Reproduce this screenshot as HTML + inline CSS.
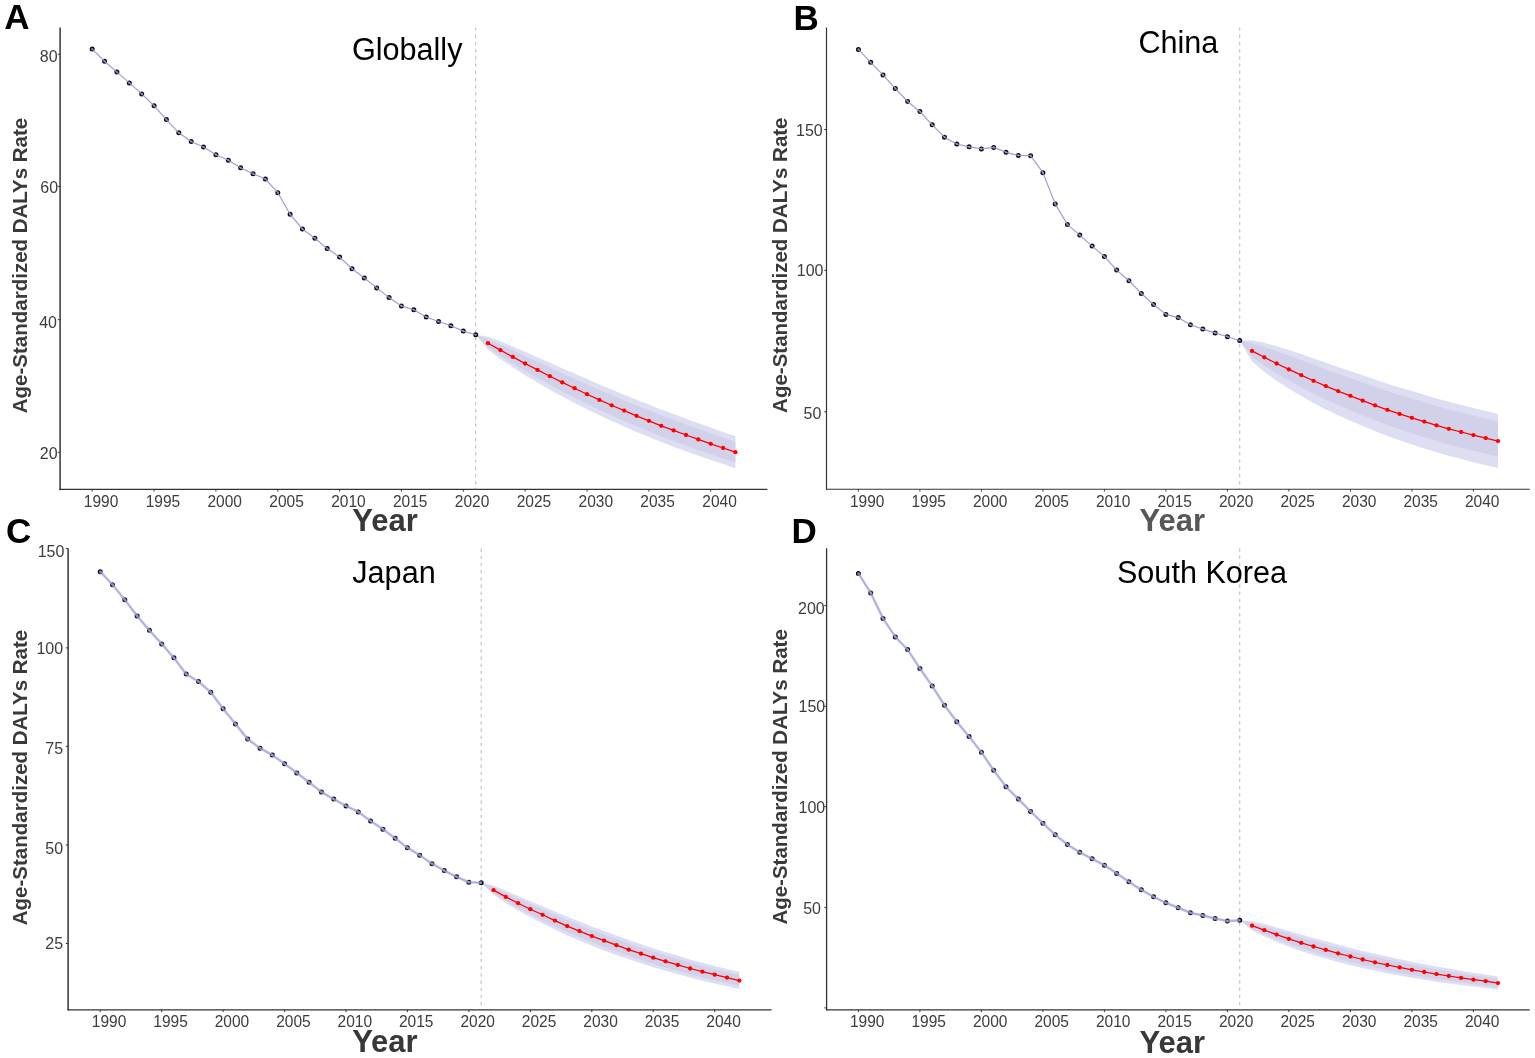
<!DOCTYPE html><html><head><meta charset="utf-8"><title>Age-Standardized DALYs Rate projections</title><style>html,body{margin:0;padding:0;background:#fff;overflow:hidden}svg{display:block}text{font-family:"Liberation Sans", Arial, Helvetica, sans-serif}</style></head><body>
<svg width="1535" height="1058" viewBox="0 0 1535 1058">
<rect width="1535" height="1058" fill="#fff"/>
<g id="panelA"><path d="M475.7,334.8 L488.0,336.8 L500.4,341.3 L512.8,346.5 L525.1,351.8 L537.5,357.2 L549.9,362.7 L562.3,368.3 L574.6,373.5 L587.0,379.1 L599.4,384.5 L611.7,389.6 L624.1,394.7 L636.5,399.7 L648.9,404.6 L661.2,409.6 L673.6,414.1 L686.0,418.7 L698.3,423.1 L710.7,427.6 L723.1,431.9 L735.4,436.2 L735.4,468.2 L723.1,464.1 L710.7,460.0 L698.3,455.7 L686.0,451.3 L673.6,446.7 L661.2,442.0 L648.9,437.0 L636.5,431.9 L624.1,426.5 L611.7,421.0 L599.4,415.3 L587.0,409.3 L574.6,402.9 L562.3,396.5 L549.9,389.7 L537.5,382.6 L525.1,375.2 L512.8,367.3 L500.4,358.9 L488.0,349.6 L475.7,334.8 Z" fill="#dedef3"/><path d="M475.7,334.8 L488.0,339.1 L500.4,344.4 L512.8,350.1 L525.1,355.9 L537.5,361.7 L549.9,367.4 L562.3,373.2 L574.6,378.7 L587.0,384.4 L599.4,389.9 L611.7,395.1 L624.1,400.3 L636.5,405.4 L648.9,410.3 L661.2,415.2 L673.6,419.8 L686.0,424.4 L698.3,428.8 L710.7,433.3 L723.1,437.5 L735.4,441.8 L735.4,462.6 L723.1,458.5 L710.7,454.3 L698.3,450.0 L686.0,445.6 L673.6,441.0 L661.2,436.4 L648.9,431.3 L636.5,426.2 L624.1,420.9 L611.7,415.5 L599.4,409.9 L587.0,404.0 L574.6,397.7 L562.3,391.6 L549.9,385.0 L537.5,378.1 L525.1,371.1 L512.8,363.7 L500.4,355.8 L488.0,347.3 L475.7,334.8 Z" fill="#d1d1ea"/><line x1="475.7" y1="27.4" x2="475.7" y2="489.4" stroke="#c2c2c2" stroke-width="1.15" stroke-dasharray="3.4 3.8"/><circle cx="92.2" cy="49.1" r="1.8" fill="#8a8ab4" stroke="#0c0c20" stroke-width="1.4"/><circle cx="104.6" cy="61.3" r="1.8" fill="#8a8ab4" stroke="#0c0c20" stroke-width="1.4"/><circle cx="116.9" cy="72.1" r="1.8" fill="#8a8ab4" stroke="#0c0c20" stroke-width="1.4"/><circle cx="129.3" cy="82.9" r="1.8" fill="#8a8ab4" stroke="#0c0c20" stroke-width="1.4"/><circle cx="141.7" cy="93.9" r="1.8" fill="#8a8ab4" stroke="#0c0c20" stroke-width="1.4"/><circle cx="154.1" cy="105.8" r="1.8" fill="#8a8ab4" stroke="#0c0c20" stroke-width="1.4"/><circle cx="166.4" cy="119.6" r="1.8" fill="#8a8ab4" stroke="#0c0c20" stroke-width="1.4"/><circle cx="178.8" cy="132.8" r="1.8" fill="#8a8ab4" stroke="#0c0c20" stroke-width="1.4"/><circle cx="191.2" cy="141.5" r="1.8" fill="#8a8ab4" stroke="#0c0c20" stroke-width="1.4"/><circle cx="203.5" cy="147.0" r="1.8" fill="#8a8ab4" stroke="#0c0c20" stroke-width="1.4"/><circle cx="215.9" cy="154.7" r="1.8" fill="#8a8ab4" stroke="#0c0c20" stroke-width="1.4"/><circle cx="228.3" cy="160.2" r="1.8" fill="#8a8ab4" stroke="#0c0c20" stroke-width="1.4"/><circle cx="240.6" cy="167.8" r="1.8" fill="#8a8ab4" stroke="#0c0c20" stroke-width="1.4"/><circle cx="253.0" cy="173.7" r="1.8" fill="#8a8ab4" stroke="#0c0c20" stroke-width="1.4"/><circle cx="265.4" cy="179.0" r="1.8" fill="#8a8ab4" stroke="#0c0c20" stroke-width="1.4"/><circle cx="277.8" cy="192.7" r="1.8" fill="#8a8ab4" stroke="#0c0c20" stroke-width="1.4"/><circle cx="290.1" cy="214.3" r="1.8" fill="#8a8ab4" stroke="#0c0c20" stroke-width="1.4"/><circle cx="302.5" cy="229.0" r="1.8" fill="#8a8ab4" stroke="#0c0c20" stroke-width="1.4"/><circle cx="314.9" cy="238.2" r="1.8" fill="#8a8ab4" stroke="#0c0c20" stroke-width="1.4"/><circle cx="327.2" cy="248.6" r="1.8" fill="#8a8ab4" stroke="#0c0c20" stroke-width="1.4"/><circle cx="339.6" cy="257.0" r="1.8" fill="#8a8ab4" stroke="#0c0c20" stroke-width="1.4"/><circle cx="352.0" cy="268.8" r="1.8" fill="#8a8ab4" stroke="#0c0c20" stroke-width="1.4"/><circle cx="364.3" cy="278.0" r="1.8" fill="#8a8ab4" stroke="#0c0c20" stroke-width="1.4"/><circle cx="376.7" cy="287.9" r="1.8" fill="#8a8ab4" stroke="#0c0c20" stroke-width="1.4"/><circle cx="389.1" cy="297.6" r="1.8" fill="#8a8ab4" stroke="#0c0c20" stroke-width="1.4"/><circle cx="401.4" cy="305.9" r="1.8" fill="#8a8ab4" stroke="#0c0c20" stroke-width="1.4"/><circle cx="413.8" cy="309.8" r="1.8" fill="#8a8ab4" stroke="#0c0c20" stroke-width="1.4"/><circle cx="426.2" cy="317.0" r="1.8" fill="#8a8ab4" stroke="#0c0c20" stroke-width="1.4"/><circle cx="438.6" cy="321.5" r="1.8" fill="#8a8ab4" stroke="#0c0c20" stroke-width="1.4"/><circle cx="450.9" cy="325.8" r="1.8" fill="#8a8ab4" stroke="#0c0c20" stroke-width="1.4"/><circle cx="463.3" cy="331.1" r="1.8" fill="#8a8ab4" stroke="#0c0c20" stroke-width="1.4"/><circle cx="475.7" cy="334.8" r="1.8" fill="#8a8ab4" stroke="#0c0c20" stroke-width="1.4"/><polyline points="92.2,49.1 104.6,61.3 116.9,72.1 129.3,82.9 141.7,93.9 154.1,105.8 166.4,119.6 178.8,132.8 191.2,141.5 203.5,147.0 215.9,154.7 228.3,160.2 240.6,167.8 253.0,173.7 265.4,179.0 277.8,192.7 290.1,214.3 302.5,229.0 314.9,238.2 327.2,248.6 339.6,257.0 352.0,268.8 364.3,278.0 376.7,287.9 389.1,297.6 401.4,305.9 413.8,309.8 426.2,317.0 438.6,321.5 450.9,325.8 463.3,331.1 475.7,334.8" fill="none" stroke="rgb(148,148,202)" stroke-opacity="0.9" stroke-width="1.2" stroke-linejoin="round"/><polyline points="488.0,343.2 500.4,350.1 512.8,356.9 525.1,363.5 537.5,369.9 549.9,376.2 562.3,382.4 574.6,388.2 587.0,394.2 599.4,399.9 611.7,405.3 624.1,410.6 636.5,415.8 648.9,420.8 661.2,425.8 673.6,430.4 686.0,435.0 698.3,439.4 710.7,443.8 723.1,448.0 735.4,452.2" fill="none" stroke="#ff0000" stroke-width="1.25" stroke-linejoin="round"/><circle cx="488.0" cy="343.2" r="2.15" fill="#ff0000"/><circle cx="500.4" cy="350.1" r="2.15" fill="#ff0000"/><circle cx="512.8" cy="356.9" r="2.15" fill="#ff0000"/><circle cx="525.1" cy="363.5" r="2.15" fill="#ff0000"/><circle cx="537.5" cy="369.9" r="2.15" fill="#ff0000"/><circle cx="549.9" cy="376.2" r="2.15" fill="#ff0000"/><circle cx="562.3" cy="382.4" r="2.15" fill="#ff0000"/><circle cx="574.6" cy="388.2" r="2.15" fill="#ff0000"/><circle cx="587.0" cy="394.2" r="2.15" fill="#ff0000"/><circle cx="599.4" cy="399.9" r="2.15" fill="#ff0000"/><circle cx="611.7" cy="405.3" r="2.15" fill="#ff0000"/><circle cx="624.1" cy="410.6" r="2.15" fill="#ff0000"/><circle cx="636.5" cy="415.8" r="2.15" fill="#ff0000"/><circle cx="648.9" cy="420.8" r="2.15" fill="#ff0000"/><circle cx="661.2" cy="425.8" r="2.15" fill="#ff0000"/><circle cx="673.6" cy="430.4" r="2.15" fill="#ff0000"/><circle cx="686.0" cy="435.0" r="2.15" fill="#ff0000"/><circle cx="698.3" cy="439.4" r="2.15" fill="#ff0000"/><circle cx="710.7" cy="443.8" r="2.15" fill="#ff0000"/><circle cx="723.1" cy="448.0" r="2.15" fill="#ff0000"/><circle cx="735.4" cy="452.2" r="2.15" fill="#ff0000"/><line x1="60.1" y1="27.4" x2="60.1" y2="489.4" stroke="#575757" stroke-width="1.8"/><line x1="60.1" y1="489.4" x2="767.4" y2="489.4" stroke="#333333" stroke-width="1.2"/><circle cx="60.1" cy="489.4" r="0.90" fill="#333333"/><line x1="57.9" y1="54.3" x2="60.1" y2="54.3" stroke="#333333" stroke-width="1"/><text x="57.6" y="62.0" font-size="16" fill="#3d3d3d" text-anchor="end">80</text><line x1="57.9" y1="186.4" x2="60.1" y2="186.4" stroke="#333333" stroke-width="1"/><text x="58.1" y="193.0" font-size="16" fill="#3d3d3d" text-anchor="end">60</text><line x1="57.9" y1="319.7" x2="60.1" y2="319.7" stroke="#333333" stroke-width="1"/><text x="57.0" y="327.8" font-size="16" fill="#3d3d3d" text-anchor="end">40</text><line x1="57.9" y1="452.3" x2="60.1" y2="452.3" stroke="#333333" stroke-width="1"/><text x="57.6" y="459.4" font-size="16" fill="#3d3d3d" text-anchor="end">20</text><line x1="92.2" y1="489.4" x2="92.2" y2="491.6" stroke="#333333" stroke-width="1"/><text transform="translate(101.0,506.8) scale(0.97,1)" font-size="16" fill="#3d3d3d" text-anchor="middle">1990</text><line x1="154.1" y1="489.4" x2="154.1" y2="491.6" stroke="#333333" stroke-width="1"/><text transform="translate(162.9,506.8) scale(0.97,1)" font-size="16" fill="#3d3d3d" text-anchor="middle">1995</text><line x1="215.9" y1="489.4" x2="215.9" y2="491.6" stroke="#333333" stroke-width="1"/><text transform="translate(224.7,506.8) scale(0.97,1)" font-size="16" fill="#3d3d3d" text-anchor="middle">2000</text><line x1="277.8" y1="489.4" x2="277.8" y2="491.6" stroke="#333333" stroke-width="1"/><text transform="translate(286.6,506.8) scale(0.97,1)" font-size="16" fill="#3d3d3d" text-anchor="middle">2005</text><line x1="339.6" y1="489.4" x2="339.6" y2="491.6" stroke="#333333" stroke-width="1"/><text transform="translate(348.4,506.8) scale(0.97,1)" font-size="16" fill="#3d3d3d" text-anchor="middle">2010</text><line x1="401.4" y1="489.4" x2="401.4" y2="491.6" stroke="#333333" stroke-width="1"/><text transform="translate(410.2,506.8) scale(0.97,1)" font-size="16" fill="#3d3d3d" text-anchor="middle">2015</text><line x1="463.3" y1="489.4" x2="463.3" y2="491.6" stroke="#333333" stroke-width="1"/><text transform="translate(472.1,506.8) scale(0.97,1)" font-size="16" fill="#3d3d3d" text-anchor="middle">2020</text><line x1="525.1" y1="489.4" x2="525.1" y2="491.6" stroke="#333333" stroke-width="1"/><text transform="translate(533.9,506.8) scale(0.97,1)" font-size="16" fill="#3d3d3d" text-anchor="middle">2025</text><line x1="587.0" y1="489.4" x2="587.0" y2="491.6" stroke="#333333" stroke-width="1"/><text transform="translate(595.8,506.8) scale(0.97,1)" font-size="16" fill="#3d3d3d" text-anchor="middle">2030</text><line x1="648.9" y1="489.4" x2="648.9" y2="491.6" stroke="#333333" stroke-width="1"/><text transform="translate(657.6,506.8) scale(0.97,1)" font-size="16" fill="#3d3d3d" text-anchor="middle">2035</text><line x1="710.7" y1="489.4" x2="710.7" y2="491.6" stroke="#333333" stroke-width="1"/><text transform="translate(719.5,506.8) scale(0.97,1)" font-size="16" fill="#3d3d3d" text-anchor="middle">2040</text><text x="407.2" y="59.6" font-size="30.6" fill="#000" text-anchor="middle">Globally</text><text x="4.2" y="29.3" font-size="35" font-weight="bold" fill="#000">A</text><text transform="translate(27.1,265.5) rotate(-90)" x="0" y="0" font-size="20.5" font-weight="bold" fill="#3a3a3a" text-anchor="middle">Age-Standardized DALYs Rate</text><text x="385.0" y="530.8" font-size="31" font-weight="bold" fill="#383838" text-anchor="middle">Year</text></g>
<g id="panelB"><path d="M1239.7,340.5 L1252.0,340.2 L1264.3,342.7 L1276.6,346.2 L1288.9,350.0 L1301.2,354.1 L1313.5,358.6 L1325.8,362.8 L1338.1,367.0 L1350.4,370.9 L1362.7,375.3 L1375.0,379.5 L1387.3,383.7 L1399.6,387.5 L1411.9,391.1 L1424.2,394.8 L1436.5,398.4 L1448.8,401.8 L1461.1,404.9 L1473.4,408.0 L1485.7,411.0 L1498.0,414.1 L1498.0,468.1 L1485.7,465.2 L1473.4,462.2 L1461.1,459.1 L1448.8,455.8 L1436.5,452.2 L1424.2,448.4 L1411.9,444.5 L1399.6,440.3 L1387.3,435.9 L1375.0,431.1 L1362.7,426.1 L1350.4,420.7 L1338.1,415.2 L1325.8,409.4 L1313.5,403.0 L1301.2,396.1 L1288.9,388.8 L1276.6,380.8 L1264.3,371.9 L1252.0,361.6 L1239.7,340.5 Z" fill="#dedef3"/><path d="M1239.7,340.5 L1252.0,343.2 L1264.3,346.8 L1276.6,351.0 L1288.9,355.5 L1301.2,360.0 L1313.5,364.8 L1325.8,369.3 L1338.1,373.7 L1350.4,377.9 L1362.7,382.4 L1375.0,386.7 L1387.3,391.0 L1399.6,394.9 L1411.9,398.6 L1424.2,402.3 L1436.5,405.9 L1448.8,409.4 L1461.1,412.5 L1473.4,415.6 L1485.7,418.6 L1498.0,421.6 L1498.0,456.8 L1485.7,453.8 L1473.4,450.8 L1461.1,447.7 L1448.8,444.5 L1436.5,440.9 L1424.2,437.2 L1411.9,433.3 L1399.6,429.2 L1387.3,425.0 L1375.0,420.3 L1362.7,415.4 L1350.4,410.2 L1338.1,405.1 L1325.8,399.6 L1313.5,393.7 L1301.2,387.3 L1288.9,380.6 L1276.6,373.5 L1264.3,365.8 L1252.0,357.1 L1239.7,340.5 Z" fill="#d1d1ea"/><line x1="1239.7" y1="27.4" x2="1239.7" y2="489.3" stroke="#c2c2c2" stroke-width="1.15" stroke-dasharray="3.4 3.8"/><circle cx="858.4" cy="49.4" r="1.8" fill="#8a8ab4" stroke="#0c0c20" stroke-width="1.4"/><circle cx="870.7" cy="62.3" r="1.8" fill="#8a8ab4" stroke="#0c0c20" stroke-width="1.4"/><circle cx="883.0" cy="74.9" r="1.8" fill="#8a8ab4" stroke="#0c0c20" stroke-width="1.4"/><circle cx="895.3" cy="88.4" r="1.8" fill="#8a8ab4" stroke="#0c0c20" stroke-width="1.4"/><circle cx="907.6" cy="101.5" r="1.8" fill="#8a8ab4" stroke="#0c0c20" stroke-width="1.4"/><circle cx="919.9" cy="111.5" r="1.8" fill="#8a8ab4" stroke="#0c0c20" stroke-width="1.4"/><circle cx="932.2" cy="124.8" r="1.8" fill="#8a8ab4" stroke="#0c0c20" stroke-width="1.4"/><circle cx="944.5" cy="137.2" r="1.8" fill="#8a8ab4" stroke="#0c0c20" stroke-width="1.4"/><circle cx="956.8" cy="144.0" r="1.8" fill="#8a8ab4" stroke="#0c0c20" stroke-width="1.4"/><circle cx="969.1" cy="146.8" r="1.8" fill="#8a8ab4" stroke="#0c0c20" stroke-width="1.4"/><circle cx="981.4" cy="148.9" r="1.8" fill="#8a8ab4" stroke="#0c0c20" stroke-width="1.4"/><circle cx="993.7" cy="147.4" r="1.8" fill="#8a8ab4" stroke="#0c0c20" stroke-width="1.4"/><circle cx="1006.0" cy="152.3" r="1.8" fill="#8a8ab4" stroke="#0c0c20" stroke-width="1.4"/><circle cx="1018.3" cy="155.4" r="1.8" fill="#8a8ab4" stroke="#0c0c20" stroke-width="1.4"/><circle cx="1030.6" cy="155.7" r="1.8" fill="#8a8ab4" stroke="#0c0c20" stroke-width="1.4"/><circle cx="1042.9" cy="172.7" r="1.8" fill="#8a8ab4" stroke="#0c0c20" stroke-width="1.4"/><circle cx="1055.2" cy="203.9" r="1.8" fill="#8a8ab4" stroke="#0c0c20" stroke-width="1.4"/><circle cx="1067.5" cy="224.6" r="1.8" fill="#8a8ab4" stroke="#0c0c20" stroke-width="1.4"/><circle cx="1079.8" cy="235.1" r="1.8" fill="#8a8ab4" stroke="#0c0c20" stroke-width="1.4"/><circle cx="1092.1" cy="246.1" r="1.8" fill="#8a8ab4" stroke="#0c0c20" stroke-width="1.4"/><circle cx="1104.4" cy="256.5" r="1.8" fill="#8a8ab4" stroke="#0c0c20" stroke-width="1.4"/><circle cx="1116.7" cy="270.1" r="1.8" fill="#8a8ab4" stroke="#0c0c20" stroke-width="1.4"/><circle cx="1129.0" cy="280.7" r="1.8" fill="#8a8ab4" stroke="#0c0c20" stroke-width="1.4"/><circle cx="1141.3" cy="293.5" r="1.8" fill="#8a8ab4" stroke="#0c0c20" stroke-width="1.4"/><circle cx="1153.6" cy="304.5" r="1.8" fill="#8a8ab4" stroke="#0c0c20" stroke-width="1.4"/><circle cx="1165.9" cy="314.4" r="1.8" fill="#8a8ab4" stroke="#0c0c20" stroke-width="1.4"/><circle cx="1178.2" cy="317.6" r="1.8" fill="#8a8ab4" stroke="#0c0c20" stroke-width="1.4"/><circle cx="1190.5" cy="324.8" r="1.8" fill="#8a8ab4" stroke="#0c0c20" stroke-width="1.4"/><circle cx="1202.8" cy="329.1" r="1.8" fill="#8a8ab4" stroke="#0c0c20" stroke-width="1.4"/><circle cx="1215.1" cy="332.9" r="1.8" fill="#8a8ab4" stroke="#0c0c20" stroke-width="1.4"/><circle cx="1227.4" cy="336.7" r="1.8" fill="#8a8ab4" stroke="#0c0c20" stroke-width="1.4"/><circle cx="1239.7" cy="340.5" r="1.8" fill="#8a8ab4" stroke="#0c0c20" stroke-width="1.4"/><polyline points="858.4,49.4 870.7,62.3 883.0,74.9 895.3,88.4 907.6,101.5 919.9,111.5 932.2,124.8 944.5,137.2 956.8,144.0 969.1,146.8 981.4,148.9 993.7,147.4 1006.0,152.3 1018.3,155.4 1030.6,155.7 1042.9,172.7 1055.2,203.9 1067.5,224.6 1079.8,235.1 1092.1,246.1 1104.4,256.5 1116.7,270.1 1129.0,280.7 1141.3,293.5 1153.6,304.5 1165.9,314.4 1178.2,317.6 1190.5,324.8 1202.8,329.1 1215.1,332.9 1227.4,336.7 1239.7,340.5" fill="none" stroke="rgb(148,148,202)" stroke-opacity="0.9" stroke-width="1.2" stroke-linejoin="round"/><polyline points="1252.0,350.9 1264.3,357.3 1276.6,363.5 1288.9,369.4 1301.2,375.1 1313.5,380.8 1325.8,386.1 1338.1,391.1 1350.4,395.8 1362.7,400.7 1375.0,405.3 1387.3,409.8 1399.6,413.9 1411.9,417.8 1424.2,421.6 1436.5,425.3 1448.8,428.8 1461.1,432.0 1473.4,435.1 1485.7,438.1 1498.0,441.1" fill="none" stroke="#ff0000" stroke-width="1.25" stroke-linejoin="round"/><circle cx="1252.0" cy="350.9" r="2.15" fill="#ff0000"/><circle cx="1264.3" cy="357.3" r="2.15" fill="#ff0000"/><circle cx="1276.6" cy="363.5" r="2.15" fill="#ff0000"/><circle cx="1288.9" cy="369.4" r="2.15" fill="#ff0000"/><circle cx="1301.2" cy="375.1" r="2.15" fill="#ff0000"/><circle cx="1313.5" cy="380.8" r="2.15" fill="#ff0000"/><circle cx="1325.8" cy="386.1" r="2.15" fill="#ff0000"/><circle cx="1338.1" cy="391.1" r="2.15" fill="#ff0000"/><circle cx="1350.4" cy="395.8" r="2.15" fill="#ff0000"/><circle cx="1362.7" cy="400.7" r="2.15" fill="#ff0000"/><circle cx="1375.0" cy="405.3" r="2.15" fill="#ff0000"/><circle cx="1387.3" cy="409.8" r="2.15" fill="#ff0000"/><circle cx="1399.6" cy="413.9" r="2.15" fill="#ff0000"/><circle cx="1411.9" cy="417.8" r="2.15" fill="#ff0000"/><circle cx="1424.2" cy="421.6" r="2.15" fill="#ff0000"/><circle cx="1436.5" cy="425.3" r="2.15" fill="#ff0000"/><circle cx="1448.8" cy="428.8" r="2.15" fill="#ff0000"/><circle cx="1461.1" cy="432.0" r="2.15" fill="#ff0000"/><circle cx="1473.4" cy="435.1" r="2.15" fill="#ff0000"/><circle cx="1485.7" cy="438.1" r="2.15" fill="#ff0000"/><circle cx="1498.0" cy="441.1" r="2.15" fill="#ff0000"/><line x1="826.5" y1="27.4" x2="826.5" y2="489.3" stroke="#333333" stroke-width="1.2"/><line x1="826.5" y1="489.3" x2="1529.8" y2="489.3" stroke="#333333" stroke-width="1.1"/><circle cx="826.5" cy="489.3" r="0.60" fill="#333333"/><line x1="824.3" y1="129.5" x2="826.5" y2="129.5" stroke="#333333" stroke-width="1"/><text x="822.7" y="136.0" font-size="16" fill="#3d3d3d" text-anchor="end">150</text><line x1="824.3" y1="270.3" x2="826.5" y2="270.3" stroke="#333333" stroke-width="1"/><text x="823.5" y="275.9" font-size="16" fill="#3d3d3d" text-anchor="end">100</text><line x1="824.3" y1="411.8" x2="826.5" y2="411.8" stroke="#333333" stroke-width="1"/><text x="821.4" y="418.8" font-size="16" fill="#3d3d3d" text-anchor="end">50</text><line x1="858.4" y1="489.3" x2="858.4" y2="491.5" stroke="#333333" stroke-width="1"/><text transform="translate(867.2,506.7) scale(0.97,1)" font-size="16" fill="#3d3d3d" text-anchor="middle">1990</text><line x1="919.9" y1="489.3" x2="919.9" y2="491.5" stroke="#333333" stroke-width="1"/><text transform="translate(928.7,506.7) scale(0.97,1)" font-size="16" fill="#3d3d3d" text-anchor="middle">1995</text><line x1="981.4" y1="489.3" x2="981.4" y2="491.5" stroke="#333333" stroke-width="1"/><text transform="translate(990.2,506.7) scale(0.97,1)" font-size="16" fill="#3d3d3d" text-anchor="middle">2000</text><line x1="1042.9" y1="489.3" x2="1042.9" y2="491.5" stroke="#333333" stroke-width="1"/><text transform="translate(1051.7,506.7) scale(0.97,1)" font-size="16" fill="#3d3d3d" text-anchor="middle">2005</text><line x1="1104.4" y1="489.3" x2="1104.4" y2="491.5" stroke="#333333" stroke-width="1"/><text transform="translate(1113.2,506.7) scale(0.97,1)" font-size="16" fill="#3d3d3d" text-anchor="middle">2010</text><line x1="1165.9" y1="489.3" x2="1165.9" y2="491.5" stroke="#333333" stroke-width="1"/><text transform="translate(1174.7,506.7) scale(0.97,1)" font-size="16" fill="#3d3d3d" text-anchor="middle">2015</text><line x1="1227.4" y1="489.3" x2="1227.4" y2="491.5" stroke="#333333" stroke-width="1"/><text transform="translate(1236.2,506.7) scale(0.97,1)" font-size="16" fill="#3d3d3d" text-anchor="middle">2020</text><line x1="1288.9" y1="489.3" x2="1288.9" y2="491.5" stroke="#333333" stroke-width="1"/><text transform="translate(1297.7,506.7) scale(0.97,1)" font-size="16" fill="#3d3d3d" text-anchor="middle">2025</text><line x1="1350.4" y1="489.3" x2="1350.4" y2="491.5" stroke="#333333" stroke-width="1"/><text transform="translate(1359.2,506.7) scale(0.97,1)" font-size="16" fill="#3d3d3d" text-anchor="middle">2030</text><line x1="1411.9" y1="489.3" x2="1411.9" y2="491.5" stroke="#333333" stroke-width="1"/><text transform="translate(1420.7,506.7) scale(0.97,1)" font-size="16" fill="#3d3d3d" text-anchor="middle">2035</text><line x1="1473.4" y1="489.3" x2="1473.4" y2="491.5" stroke="#333333" stroke-width="1"/><text transform="translate(1482.2,506.7) scale(0.97,1)" font-size="16" fill="#3d3d3d" text-anchor="middle">2040</text><text x="1178.4" y="53.3" font-size="30.6" fill="#000" text-anchor="middle">China</text><text x="793.5" y="29.8" font-size="35" font-weight="bold" fill="#000">B</text><text transform="translate(787.1,265.2) rotate(-90)" x="0" y="0" font-size="20.5" font-weight="bold" fill="#3a3a3a" text-anchor="middle">Age-Standardized DALYs Rate</text><text x="1172.3" y="530.8" font-size="31" font-weight="bold" fill="#575757" text-anchor="middle">Year</text></g>
<g id="panelC"><path d="M481.2,882.7 L493.5,885.5 L505.8,890.7 L518.1,895.9 L530.4,901.2 L542.6,906.2 L554.9,911.6 L567.2,916.8 L579.5,921.6 L591.8,926.5 L604.1,931.0 L616.4,935.5 L628.7,940.1 L641.0,944.1 L653.2,948.2 L665.5,951.9 L677.8,955.6 L690.1,959.4 L702.4,962.7 L714.7,965.9 L727.0,968.9 L739.3,972.1 L739.3,989.1 L727.0,986.3 L714.7,983.5 L702.4,980.7 L690.1,977.6 L677.8,974.2 L665.5,970.7 L653.2,967.2 L641.0,963.3 L628.7,959.3 L616.4,954.9 L604.1,950.4 L591.8,945.7 L579.5,940.6 L567.2,935.4 L554.9,929.6 L542.6,923.4 L530.4,917.2 L518.1,910.5 L505.8,903.1 L493.5,894.7 L481.2,882.7 Z" fill="#dedef3"/><path d="M481.2,882.7 L493.5,887.1 L505.8,892.9 L518.1,898.5 L530.4,904.0 L542.6,909.2 L554.9,914.8 L567.2,920.1 L579.5,924.9 L591.8,929.9 L604.1,934.4 L616.4,938.9 L628.7,943.4 L641.0,947.5 L653.2,951.5 L665.5,955.2 L677.8,958.9 L690.1,962.6 L702.4,965.9 L714.7,968.9 L727.0,972.0 L739.3,975.1 L739.3,986.1 L727.0,983.2 L714.7,980.5 L702.4,977.5 L690.1,974.4 L677.8,970.9 L665.5,967.4 L653.2,963.9 L641.0,959.9 L628.7,956.0 L616.4,951.5 L604.1,947.0 L591.8,942.3 L579.5,937.3 L567.2,932.1 L554.9,926.4 L542.6,920.4 L530.4,914.4 L518.1,907.9 L505.8,900.9 L493.5,893.1 L481.2,882.7 Z" fill="#d1d1ea"/><line x1="481.2" y1="548.5" x2="481.2" y2="1009.9" stroke="#c2c2c2" stroke-width="1.15" stroke-dasharray="3.4 3.8"/><circle cx="100.2" cy="571.7" r="1.8" fill="#8a8ab4" stroke="#0c0c20" stroke-width="1.4"/><circle cx="112.5" cy="584.7" r="1.8" fill="#8a8ab4" stroke="#0c0c20" stroke-width="1.4"/><circle cx="124.8" cy="599.7" r="1.8" fill="#8a8ab4" stroke="#0c0c20" stroke-width="1.4"/><circle cx="137.1" cy="615.9" r="1.8" fill="#8a8ab4" stroke="#0c0c20" stroke-width="1.4"/><circle cx="149.4" cy="630.3" r="1.8" fill="#8a8ab4" stroke="#0c0c20" stroke-width="1.4"/><circle cx="161.7" cy="643.9" r="1.8" fill="#8a8ab4" stroke="#0c0c20" stroke-width="1.4"/><circle cx="173.9" cy="657.8" r="1.8" fill="#8a8ab4" stroke="#0c0c20" stroke-width="1.4"/><circle cx="186.2" cy="674.1" r="1.8" fill="#8a8ab4" stroke="#0c0c20" stroke-width="1.4"/><circle cx="198.5" cy="681.5" r="1.8" fill="#8a8ab4" stroke="#0c0c20" stroke-width="1.4"/><circle cx="210.8" cy="692.3" r="1.8" fill="#8a8ab4" stroke="#0c0c20" stroke-width="1.4"/><circle cx="223.1" cy="708.8" r="1.8" fill="#8a8ab4" stroke="#0c0c20" stroke-width="1.4"/><circle cx="235.4" cy="723.9" r="1.8" fill="#8a8ab4" stroke="#0c0c20" stroke-width="1.4"/><circle cx="247.7" cy="739.1" r="1.8" fill="#8a8ab4" stroke="#0c0c20" stroke-width="1.4"/><circle cx="260.0" cy="748.2" r="1.8" fill="#8a8ab4" stroke="#0c0c20" stroke-width="1.4"/><circle cx="272.3" cy="755.0" r="1.8" fill="#8a8ab4" stroke="#0c0c20" stroke-width="1.4"/><circle cx="284.6" cy="763.8" r="1.8" fill="#8a8ab4" stroke="#0c0c20" stroke-width="1.4"/><circle cx="296.8" cy="772.9" r="1.8" fill="#8a8ab4" stroke="#0c0c20" stroke-width="1.4"/><circle cx="309.1" cy="782.3" r="1.8" fill="#8a8ab4" stroke="#0c0c20" stroke-width="1.4"/><circle cx="321.4" cy="792.0" r="1.8" fill="#8a8ab4" stroke="#0c0c20" stroke-width="1.4"/><circle cx="333.7" cy="799.1" r="1.8" fill="#8a8ab4" stroke="#0c0c20" stroke-width="1.4"/><circle cx="346.0" cy="805.9" r="1.8" fill="#8a8ab4" stroke="#0c0c20" stroke-width="1.4"/><circle cx="358.3" cy="811.9" r="1.8" fill="#8a8ab4" stroke="#0c0c20" stroke-width="1.4"/><circle cx="370.6" cy="821.0" r="1.8" fill="#8a8ab4" stroke="#0c0c20" stroke-width="1.4"/><circle cx="382.9" cy="829.2" r="1.8" fill="#8a8ab4" stroke="#0c0c20" stroke-width="1.4"/><circle cx="395.2" cy="838.3" r="1.8" fill="#8a8ab4" stroke="#0c0c20" stroke-width="1.4"/><circle cx="407.4" cy="847.7" r="1.8" fill="#8a8ab4" stroke="#0c0c20" stroke-width="1.4"/><circle cx="419.7" cy="855.2" r="1.8" fill="#8a8ab4" stroke="#0c0c20" stroke-width="1.4"/><circle cx="432.0" cy="863.7" r="1.8" fill="#8a8ab4" stroke="#0c0c20" stroke-width="1.4"/><circle cx="444.3" cy="870.6" r="1.8" fill="#8a8ab4" stroke="#0c0c20" stroke-width="1.4"/><circle cx="456.6" cy="876.8" r="1.8" fill="#8a8ab4" stroke="#0c0c20" stroke-width="1.4"/><circle cx="468.9" cy="882.2" r="1.8" fill="#8a8ab4" stroke="#0c0c20" stroke-width="1.4"/><circle cx="481.2" cy="882.7" r="1.8" fill="#8a8ab4" stroke="#0c0c20" stroke-width="1.4"/><polyline points="100.2,571.7 112.5,584.7 124.8,599.7 137.1,615.9 149.4,630.3 161.7,643.9 173.9,657.8 186.2,674.1 198.5,681.5 210.8,692.3 223.1,708.8 235.4,723.9 247.7,739.1 260.0,748.2 272.3,755.0 284.6,763.8 296.8,772.9 309.1,782.3 321.4,792.0 333.7,799.1 346.0,805.9 358.3,811.9 370.6,821.0 382.9,829.2 395.2,838.3 407.4,847.7 419.7,855.2 432.0,863.7 444.3,870.6 456.6,876.8 468.9,882.2 481.2,882.7" fill="none" stroke="rgb(165,165,222)" stroke-opacity="0.7" stroke-width="2.6" stroke-linejoin="round"/><polyline points="100.2,571.7 112.5,584.7 124.8,599.7 137.1,615.9 149.4,630.3 161.7,643.9 173.9,657.8 186.2,674.1 198.5,681.5 210.8,692.3 223.1,708.8 235.4,723.9 247.7,739.1 260.0,748.2 272.3,755.0 284.6,763.8 296.8,772.9 309.1,782.3 321.4,792.0 333.7,799.1 346.0,805.9 358.3,811.9 370.6,821.0 382.9,829.2 395.2,838.3 407.4,847.7 419.7,855.2 432.0,863.7 444.3,870.6 456.6,876.8 468.9,882.2 481.2,882.7" fill="none" stroke="rgb(130,130,195)" stroke-opacity="0.45" stroke-width="0.8" stroke-linejoin="round"/><polyline points="493.5,890.1 505.8,896.9 518.1,903.2 530.4,909.2 542.6,914.8 554.9,920.6 567.2,926.1 579.5,931.1 591.8,936.1 604.1,940.7 616.4,945.2 628.7,949.7 641.0,953.7 653.2,957.7 665.5,961.3 677.8,964.9 690.1,968.5 702.4,971.7 714.7,974.7 727.0,977.6 739.3,980.6" fill="none" stroke="#ff0000" stroke-width="1.25" stroke-linejoin="round"/><circle cx="493.5" cy="890.1" r="2.15" fill="#ff0000"/><circle cx="505.8" cy="896.9" r="2.15" fill="#ff0000"/><circle cx="518.1" cy="903.2" r="2.15" fill="#ff0000"/><circle cx="530.4" cy="909.2" r="2.15" fill="#ff0000"/><circle cx="542.6" cy="914.8" r="2.15" fill="#ff0000"/><circle cx="554.9" cy="920.6" r="2.15" fill="#ff0000"/><circle cx="567.2" cy="926.1" r="2.15" fill="#ff0000"/><circle cx="579.5" cy="931.1" r="2.15" fill="#ff0000"/><circle cx="591.8" cy="936.1" r="2.15" fill="#ff0000"/><circle cx="604.1" cy="940.7" r="2.15" fill="#ff0000"/><circle cx="616.4" cy="945.2" r="2.15" fill="#ff0000"/><circle cx="628.7" cy="949.7" r="2.15" fill="#ff0000"/><circle cx="641.0" cy="953.7" r="2.15" fill="#ff0000"/><circle cx="653.2" cy="957.7" r="2.15" fill="#ff0000"/><circle cx="665.5" cy="961.3" r="2.15" fill="#ff0000"/><circle cx="677.8" cy="964.9" r="2.15" fill="#ff0000"/><circle cx="690.1" cy="968.5" r="2.15" fill="#ff0000"/><circle cx="702.4" cy="971.7" r="2.15" fill="#ff0000"/><circle cx="714.7" cy="974.7" r="2.15" fill="#ff0000"/><circle cx="727.0" cy="977.6" r="2.15" fill="#ff0000"/><circle cx="739.3" cy="980.6" r="2.15" fill="#ff0000"/><line x1="68.1" y1="548.5" x2="68.1" y2="1009.9" stroke="#333333" stroke-width="1.5"/><line x1="68.1" y1="1009.9" x2="771.5" y2="1009.9" stroke="#333333" stroke-width="1.3"/><circle cx="68.1" cy="1009.9" r="0.75" fill="#333333"/><line x1="65.9" y1="548.5" x2="68.1" y2="548.5" stroke="#333333" stroke-width="1"/><text x="64.4" y="556.7" font-size="16" fill="#3d3d3d" text-anchor="end">150</text><line x1="65.9" y1="647.9" x2="68.1" y2="647.9" stroke="#333333" stroke-width="1"/><text x="63.1" y="654.1" font-size="16" fill="#3d3d3d" text-anchor="end">100</text><line x1="65.9" y1="746.3" x2="68.1" y2="746.3" stroke="#333333" stroke-width="1"/><text x="63.1" y="753.8" font-size="16" fill="#3d3d3d" text-anchor="end">75</text><line x1="65.9" y1="845.0" x2="68.1" y2="845.0" stroke="#333333" stroke-width="1"/><text x="63.1" y="854.0" font-size="16" fill="#3d3d3d" text-anchor="end">50</text><line x1="65.9" y1="943.5" x2="68.1" y2="943.5" stroke="#333333" stroke-width="1"/><text x="63.1" y="949.0" font-size="16" fill="#3d3d3d" text-anchor="end">25</text><line x1="100.2" y1="1009.9" x2="100.2" y2="1012.1" stroke="#333333" stroke-width="1"/><text transform="translate(109.0,1027.3) scale(0.97,1)" font-size="16" fill="#3d3d3d" text-anchor="middle">1990</text><line x1="161.7" y1="1009.9" x2="161.7" y2="1012.1" stroke="#333333" stroke-width="1"/><text transform="translate(170.5,1027.3) scale(0.97,1)" font-size="16" fill="#3d3d3d" text-anchor="middle">1995</text><line x1="223.1" y1="1009.9" x2="223.1" y2="1012.1" stroke="#333333" stroke-width="1"/><text transform="translate(231.9,1027.3) scale(0.97,1)" font-size="16" fill="#3d3d3d" text-anchor="middle">2000</text><line x1="284.6" y1="1009.9" x2="284.6" y2="1012.1" stroke="#333333" stroke-width="1"/><text transform="translate(293.4,1027.3) scale(0.97,1)" font-size="16" fill="#3d3d3d" text-anchor="middle">2005</text><line x1="346.0" y1="1009.9" x2="346.0" y2="1012.1" stroke="#333333" stroke-width="1"/><text transform="translate(354.8,1027.3) scale(0.97,1)" font-size="16" fill="#3d3d3d" text-anchor="middle">2010</text><line x1="407.4" y1="1009.9" x2="407.4" y2="1012.1" stroke="#333333" stroke-width="1"/><text transform="translate(416.2,1027.3) scale(0.97,1)" font-size="16" fill="#3d3d3d" text-anchor="middle">2015</text><line x1="468.9" y1="1009.9" x2="468.9" y2="1012.1" stroke="#333333" stroke-width="1"/><text transform="translate(477.7,1027.3) scale(0.97,1)" font-size="16" fill="#3d3d3d" text-anchor="middle">2020</text><line x1="530.4" y1="1009.9" x2="530.4" y2="1012.1" stroke="#333333" stroke-width="1"/><text transform="translate(539.1,1027.3) scale(0.97,1)" font-size="16" fill="#3d3d3d" text-anchor="middle">2025</text><line x1="591.8" y1="1009.9" x2="591.8" y2="1012.1" stroke="#333333" stroke-width="1"/><text transform="translate(600.6,1027.3) scale(0.97,1)" font-size="16" fill="#3d3d3d" text-anchor="middle">2030</text><line x1="653.2" y1="1009.9" x2="653.2" y2="1012.1" stroke="#333333" stroke-width="1"/><text transform="translate(662.0,1027.3) scale(0.97,1)" font-size="16" fill="#3d3d3d" text-anchor="middle">2035</text><line x1="714.7" y1="1009.9" x2="714.7" y2="1012.1" stroke="#333333" stroke-width="1"/><text transform="translate(723.5,1027.3) scale(0.97,1)" font-size="16" fill="#3d3d3d" text-anchor="middle">2040</text><text x="394.0" y="583.0" font-size="30.6" fill="#000" text-anchor="middle">Japan</text><text x="6.0" y="543.0" font-size="35" font-weight="bold" fill="#000">C</text><text transform="translate(27.1,777.5) rotate(-90)" x="0" y="0" font-size="20.5" font-weight="bold" fill="#3a3a3a" text-anchor="middle">Age-Standardized DALYs Rate</text><text x="384.9" y="1052.1" font-size="31" font-weight="bold" fill="#383838" text-anchor="middle">Year</text></g>
<g id="panelD"><path d="M1239.7,920.3 L1252.0,921.1 L1264.3,924.0 L1276.6,927.4 L1288.9,931.1 L1301.2,934.6 L1313.5,938.0 L1325.8,941.3 L1338.1,944.6 L1350.4,947.8 L1362.7,950.9 L1375.0,953.8 L1387.3,956.6 L1399.6,959.2 L1411.9,961.8 L1424.2,964.2 L1436.5,966.5 L1448.8,968.6 L1461.1,970.7 L1473.4,972.8 L1485.7,974.5 L1498.0,976.7 L1498.0,989.5 L1485.7,987.9 L1473.4,986.6 L1461.1,985.1 L1448.8,983.4 L1436.5,981.7 L1424.2,979.8 L1411.9,977.8 L1399.6,975.6 L1387.3,973.4 L1375.0,970.8 L1362.7,968.1 L1350.4,965.2 L1338.1,962.0 L1325.8,958.5 L1313.5,955.0 L1301.2,951.0 L1288.9,946.7 L1276.6,941.8 L1264.3,936.4 L1252.0,930.3 L1239.7,920.3 Z" fill="#dedef3"/><path d="M1239.7,920.3 L1252.0,922.7 L1264.3,926.2 L1276.6,929.9 L1288.9,933.8 L1301.2,937.5 L1313.5,941.0 L1325.8,944.3 L1338.1,947.6 L1350.4,950.9 L1362.7,953.9 L1375.0,956.8 L1387.3,959.6 L1399.6,962.1 L1411.9,964.6 L1424.2,966.9 L1436.5,969.2 L1448.8,971.2 L1461.1,973.2 L1473.4,975.2 L1485.7,976.8 L1498.0,978.9 L1498.0,987.3 L1485.7,985.6 L1473.4,984.2 L1461.1,982.6 L1448.8,980.8 L1436.5,979.0 L1424.2,977.1 L1411.9,975.0 L1399.6,972.7 L1387.3,970.4 L1375.0,967.8 L1362.7,965.1 L1350.4,962.1 L1338.1,959.0 L1325.8,955.5 L1313.5,952.0 L1301.2,948.1 L1288.9,944.0 L1276.6,939.3 L1264.3,934.2 L1252.0,928.7 L1239.7,920.3 Z" fill="#d1d1ea"/><line x1="1239.7" y1="548.3" x2="1239.7" y2="1009.9" stroke="#c2c2c2" stroke-width="1.15" stroke-dasharray="3.4 3.8"/><circle cx="858.4" cy="573.4" r="1.8" fill="#8a8ab4" stroke="#0c0c20" stroke-width="1.4"/><circle cx="870.7" cy="592.9" r="1.8" fill="#8a8ab4" stroke="#0c0c20" stroke-width="1.4"/><circle cx="883.0" cy="618.4" r="1.8" fill="#8a8ab4" stroke="#0c0c20" stroke-width="1.4"/><circle cx="895.3" cy="636.9" r="1.8" fill="#8a8ab4" stroke="#0c0c20" stroke-width="1.4"/><circle cx="907.6" cy="649.6" r="1.8" fill="#8a8ab4" stroke="#0c0c20" stroke-width="1.4"/><circle cx="919.9" cy="668.4" r="1.8" fill="#8a8ab4" stroke="#0c0c20" stroke-width="1.4"/><circle cx="932.2" cy="686.0" r="1.8" fill="#8a8ab4" stroke="#0c0c20" stroke-width="1.4"/><circle cx="944.5" cy="705.3" r="1.8" fill="#8a8ab4" stroke="#0c0c20" stroke-width="1.4"/><circle cx="956.8" cy="721.8" r="1.8" fill="#8a8ab4" stroke="#0c0c20" stroke-width="1.4"/><circle cx="969.1" cy="736.5" r="1.8" fill="#8a8ab4" stroke="#0c0c20" stroke-width="1.4"/><circle cx="981.4" cy="752.3" r="1.8" fill="#8a8ab4" stroke="#0c0c20" stroke-width="1.4"/><circle cx="993.7" cy="770.3" r="1.8" fill="#8a8ab4" stroke="#0c0c20" stroke-width="1.4"/><circle cx="1006.0" cy="786.8" r="1.8" fill="#8a8ab4" stroke="#0c0c20" stroke-width="1.4"/><circle cx="1018.3" cy="799.0" r="1.8" fill="#8a8ab4" stroke="#0c0c20" stroke-width="1.4"/><circle cx="1030.6" cy="811.4" r="1.8" fill="#8a8ab4" stroke="#0c0c20" stroke-width="1.4"/><circle cx="1042.9" cy="823.3" r="1.8" fill="#8a8ab4" stroke="#0c0c20" stroke-width="1.4"/><circle cx="1055.2" cy="834.7" r="1.8" fill="#8a8ab4" stroke="#0c0c20" stroke-width="1.4"/><circle cx="1067.5" cy="844.6" r="1.8" fill="#8a8ab4" stroke="#0c0c20" stroke-width="1.4"/><circle cx="1079.8" cy="852.3" r="1.8" fill="#8a8ab4" stroke="#0c0c20" stroke-width="1.4"/><circle cx="1092.1" cy="858.8" r="1.8" fill="#8a8ab4" stroke="#0c0c20" stroke-width="1.4"/><circle cx="1104.4" cy="865.2" r="1.8" fill="#8a8ab4" stroke="#0c0c20" stroke-width="1.4"/><circle cx="1116.7" cy="873.4" r="1.8" fill="#8a8ab4" stroke="#0c0c20" stroke-width="1.4"/><circle cx="1129.0" cy="881.8" r="1.8" fill="#8a8ab4" stroke="#0c0c20" stroke-width="1.4"/><circle cx="1141.3" cy="889.8" r="1.8" fill="#8a8ab4" stroke="#0c0c20" stroke-width="1.4"/><circle cx="1153.6" cy="896.8" r="1.8" fill="#8a8ab4" stroke="#0c0c20" stroke-width="1.4"/><circle cx="1165.9" cy="902.8" r="1.8" fill="#8a8ab4" stroke="#0c0c20" stroke-width="1.4"/><circle cx="1178.2" cy="907.7" r="1.8" fill="#8a8ab4" stroke="#0c0c20" stroke-width="1.4"/><circle cx="1190.5" cy="912.8" r="1.8" fill="#8a8ab4" stroke="#0c0c20" stroke-width="1.4"/><circle cx="1202.8" cy="915.4" r="1.8" fill="#8a8ab4" stroke="#0c0c20" stroke-width="1.4"/><circle cx="1215.1" cy="918.5" r="1.8" fill="#8a8ab4" stroke="#0c0c20" stroke-width="1.4"/><circle cx="1227.4" cy="921.1" r="1.8" fill="#8a8ab4" stroke="#0c0c20" stroke-width="1.4"/><circle cx="1239.7" cy="920.3" r="1.8" fill="#8a8ab4" stroke="#0c0c20" stroke-width="1.4"/><polyline points="858.4,573.4 870.7,592.9 883.0,618.4 895.3,636.9 907.6,649.6 919.9,668.4 932.2,686.0 944.5,705.3 956.8,721.8 969.1,736.5 981.4,752.3 993.7,770.3 1006.0,786.8 1018.3,799.0 1030.6,811.4 1042.9,823.3 1055.2,834.7 1067.5,844.6 1079.8,852.3 1092.1,858.8 1104.4,865.2 1116.7,873.4 1129.0,881.8 1141.3,889.8 1153.6,896.8 1165.9,902.8 1178.2,907.7 1190.5,912.8 1202.8,915.4 1215.1,918.5 1227.4,921.1 1239.7,920.3" fill="none" stroke="rgb(165,165,222)" stroke-opacity="0.7" stroke-width="2.6" stroke-linejoin="round"/><polyline points="858.4,573.4 870.7,592.9 883.0,618.4 895.3,636.9 907.6,649.6 919.9,668.4 932.2,686.0 944.5,705.3 956.8,721.8 969.1,736.5 981.4,752.3 993.7,770.3 1006.0,786.8 1018.3,799.0 1030.6,811.4 1042.9,823.3 1055.2,834.7 1067.5,844.6 1079.8,852.3 1092.1,858.8 1104.4,865.2 1116.7,873.4 1129.0,881.8 1141.3,889.8 1153.6,896.8 1165.9,902.8 1178.2,907.7 1190.5,912.8 1202.8,915.4 1215.1,918.5 1227.4,921.1 1239.7,920.3" fill="none" stroke="rgb(130,130,195)" stroke-opacity="0.45" stroke-width="0.8" stroke-linejoin="round"/><polyline points="1252.0,925.7 1264.3,930.2 1276.6,934.6 1288.9,938.9 1301.2,942.8 1313.5,946.5 1325.8,949.9 1338.1,953.3 1350.4,956.5 1362.7,959.5 1375.0,962.3 1387.3,965.0 1399.6,967.4 1411.9,969.8 1424.2,972.0 1436.5,974.1 1448.8,976.0 1461.1,977.9 1473.4,979.7 1485.7,981.2 1498.0,983.1" fill="none" stroke="#ff0000" stroke-width="1.25" stroke-linejoin="round"/><circle cx="1252.0" cy="925.7" r="2.15" fill="#ff0000"/><circle cx="1264.3" cy="930.2" r="2.15" fill="#ff0000"/><circle cx="1276.6" cy="934.6" r="2.15" fill="#ff0000"/><circle cx="1288.9" cy="938.9" r="2.15" fill="#ff0000"/><circle cx="1301.2" cy="942.8" r="2.15" fill="#ff0000"/><circle cx="1313.5" cy="946.5" r="2.15" fill="#ff0000"/><circle cx="1325.8" cy="949.9" r="2.15" fill="#ff0000"/><circle cx="1338.1" cy="953.3" r="2.15" fill="#ff0000"/><circle cx="1350.4" cy="956.5" r="2.15" fill="#ff0000"/><circle cx="1362.7" cy="959.5" r="2.15" fill="#ff0000"/><circle cx="1375.0" cy="962.3" r="2.15" fill="#ff0000"/><circle cx="1387.3" cy="965.0" r="2.15" fill="#ff0000"/><circle cx="1399.6" cy="967.4" r="2.15" fill="#ff0000"/><circle cx="1411.9" cy="969.8" r="2.15" fill="#ff0000"/><circle cx="1424.2" cy="972.0" r="2.15" fill="#ff0000"/><circle cx="1436.5" cy="974.1" r="2.15" fill="#ff0000"/><circle cx="1448.8" cy="976.0" r="2.15" fill="#ff0000"/><circle cx="1461.1" cy="977.9" r="2.15" fill="#ff0000"/><circle cx="1473.4" cy="979.7" r="2.15" fill="#ff0000"/><circle cx="1485.7" cy="981.2" r="2.15" fill="#ff0000"/><circle cx="1498.0" cy="983.1" r="2.15" fill="#ff0000"/><line x1="826.6" y1="548.3" x2="826.6" y2="1009.9" stroke="#333333" stroke-width="1.3"/><line x1="826.6" y1="1009.9" x2="1529.8" y2="1009.9" stroke="#333333" stroke-width="1.4"/><circle cx="826.6" cy="1009.9" r="0.70" fill="#333333"/><line x1="824.4" y1="1007.9" x2="826.6" y2="1007.9" stroke="#333333" stroke-width="1"/><line x1="824.4" y1="605.6" x2="826.6" y2="605.6" stroke="#333333" stroke-width="1"/><text x="824.7" y="613.5" font-size="16" fill="#3d3d3d" text-anchor="end">200</text><line x1="824.4" y1="706.3" x2="826.6" y2="706.3" stroke="#333333" stroke-width="1"/><text x="825.2" y="711.5" font-size="16" fill="#3d3d3d" text-anchor="end">150</text><line x1="824.4" y1="806.6" x2="826.6" y2="806.6" stroke="#333333" stroke-width="1"/><text x="825.2" y="813.0" font-size="16" fill="#3d3d3d" text-anchor="end">100</text><line x1="824.4" y1="907.4" x2="826.6" y2="907.4" stroke="#333333" stroke-width="1"/><text x="821.0" y="914.2" font-size="16" fill="#3d3d3d" text-anchor="end">50</text><line x1="858.4" y1="1009.9" x2="858.4" y2="1012.1" stroke="#333333" stroke-width="1"/><text transform="translate(867.2,1027.3) scale(0.97,1)" font-size="16" fill="#3d3d3d" text-anchor="middle">1990</text><line x1="919.9" y1="1009.9" x2="919.9" y2="1012.1" stroke="#333333" stroke-width="1"/><text transform="translate(928.7,1027.3) scale(0.97,1)" font-size="16" fill="#3d3d3d" text-anchor="middle">1995</text><line x1="981.4" y1="1009.9" x2="981.4" y2="1012.1" stroke="#333333" stroke-width="1"/><text transform="translate(990.2,1027.3) scale(0.97,1)" font-size="16" fill="#3d3d3d" text-anchor="middle">2000</text><line x1="1042.9" y1="1009.9" x2="1042.9" y2="1012.1" stroke="#333333" stroke-width="1"/><text transform="translate(1051.7,1027.3) scale(0.97,1)" font-size="16" fill="#3d3d3d" text-anchor="middle">2005</text><line x1="1104.4" y1="1009.9" x2="1104.4" y2="1012.1" stroke="#333333" stroke-width="1"/><text transform="translate(1113.2,1027.3) scale(0.97,1)" font-size="16" fill="#3d3d3d" text-anchor="middle">2010</text><line x1="1165.9" y1="1009.9" x2="1165.9" y2="1012.1" stroke="#333333" stroke-width="1"/><text transform="translate(1174.7,1027.3) scale(0.97,1)" font-size="16" fill="#3d3d3d" text-anchor="middle">2015</text><line x1="1227.4" y1="1009.9" x2="1227.4" y2="1012.1" stroke="#333333" stroke-width="1"/><text transform="translate(1236.2,1027.3) scale(0.97,1)" font-size="16" fill="#3d3d3d" text-anchor="middle">2020</text><line x1="1288.9" y1="1009.9" x2="1288.9" y2="1012.1" stroke="#333333" stroke-width="1"/><text transform="translate(1297.7,1027.3) scale(0.97,1)" font-size="16" fill="#3d3d3d" text-anchor="middle">2025</text><line x1="1350.4" y1="1009.9" x2="1350.4" y2="1012.1" stroke="#333333" stroke-width="1"/><text transform="translate(1359.2,1027.3) scale(0.97,1)" font-size="16" fill="#3d3d3d" text-anchor="middle">2030</text><line x1="1411.9" y1="1009.9" x2="1411.9" y2="1012.1" stroke="#333333" stroke-width="1"/><text transform="translate(1420.7,1027.3) scale(0.97,1)" font-size="16" fill="#3d3d3d" text-anchor="middle">2035</text><line x1="1473.4" y1="1009.9" x2="1473.4" y2="1012.1" stroke="#333333" stroke-width="1"/><text transform="translate(1482.2,1027.3) scale(0.97,1)" font-size="16" fill="#3d3d3d" text-anchor="middle">2040</text><text x="1202.0" y="583.0" font-size="30.6" fill="#000" text-anchor="middle">South Korea</text><text x="791.5" y="543.2" font-size="35" font-weight="bold" fill="#000">D</text><text transform="translate(787.4,776.9) rotate(-90)" x="0" y="0" font-size="20.5" font-weight="bold" fill="#3a3a3a" text-anchor="middle">Age-Standardized DALYs Rate</text><text x="1172.3" y="1052.8" font-size="31" font-weight="bold" fill="#383838" text-anchor="middle">Year</text></g>
</svg></body></html>
